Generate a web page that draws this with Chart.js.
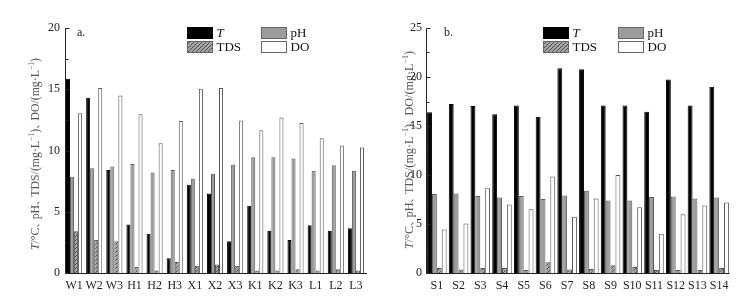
<!DOCTYPE html>
<html>
<head>
<meta charset="utf-8">
<script src="https://cdn.jsdelivr.net/npm/chart.js@4.4.1/dist/chart.umd.min.js"></script>
<style>
  html, body { margin: 0; padding: 0; background: #fff; }
  #wrap { position: relative; width: 756px; height: 299px; overflow: hidden; }
  .panel { position: absolute; top: 0; height: 299px; }
</style>
</head>
<body>
<div id="wrap">
  <div class="panel" style="left:0;width:376px"><canvas id="chartA" width="376" height="299"></canvas></div>
  <div class="panel" style="left:376px;width:380px"><canvas id="chartB" width="380" height="299"></canvas></div>
</div>
<script>
const SERIF = '"Liberation Serif", "Times New Roman", serif';
const CJK = '"Noto Sans CJK SC", sans-serif';

// panel a
const sitesA = ["W1", "W2", "W3", "H1", "H2", "H3", "X1", "X2", "X3", "K1", "K2", "K3", "L1", "L2", "L3"];
const tempA = [15.85, 14.3, 8.4, 3.95, 3.2, 1.2, 7.2, 6.5, 2.6, 5.5, 3.45, 2.7, 3.9, 3.45, 3.65];
const phA = [7.85, 8.55, 8.7, 8.9, 8.2, 8.4, 7.7, 8.1, 8.85, 9.45, 9.45, 9.35, 8.35, 8.8, 8.35];
const tdsA = [3.4, 2.7, 2.6, 0.5, 0.2, 0.9, 0.6, 0.7, 0.6, 0.2, 0.2, 0.3, 0.2, 0.3, 0.2];
const doA = [13.05, 15.1, 14.5, 12.95, 10.6, 12.4, 15.05, 15.1, 12.45, 11.65, 12.7, 12.25, 11.0, 10.4, 10.25];
const ticksA = [0, 5, 10, 15, 20];

// panel b
const sitesB = ["S1", "S2", "S3", "S4", "S5", "S6", "S7", "S8", "S9", "S10", "S11", "S12", "S13", "S14"];
const tempB = [16.4, 17.25, 17.05, 16.2, 17.1, 15.95, 20.9, 20.8, 17.1, 17.1, 16.45, 19.75, 17.1, 19.0];
const phB = [8.05, 8.1, 7.85, 7.7, 7.85, 7.55, 7.9, 8.4, 7.4, 7.4, 7.75, 7.8, 7.6, 7.7];
const tdsB = [0.5, 0.35, 0.5, 0.5, 0.3, 1.1, 0.35, 0.4, 0.8, 0.6, 0.3, 0.3, 0.3, 0.5];
const doB = [4.45, 5.05, 8.65, 7.0, 6.5, 9.85, 5.75, 7.6, 10.0, 6.7, 4.0, 6.0, 6.9, 7.2];
const ticksB = [0, 5, 10, 15, 20, 25];

const seriesNames = ["T", "pH", "TDS", "DO"];

// hatched fill for TDS
function makeHatch() {
  const c = document.createElement("canvas");
  c.width = 4;
  c.height = 4;
  const g = c.getContext("2d");
  g.fillStyle = "#a2a2a2";
  g.fillRect(0, 0, 4, 4);
  g.strokeStyle = "#555";
  g.lineWidth = 1;
  g.beginPath();
  g.moveTo(0, 4); g.lineTo(4, 0);
  g.moveTo(-1, 1); g.lineTo(1, -1);
  g.moveTo(3, 5); g.lineTo(5, 3);
  g.stroke();
  return g.createPattern(c, "repeat");
}
const hatch = makeHatch();

const styles = [
  { fill: "#000", border: "#000" },
  { fill: "#9c9c9c", border: "#5a5a5a" },
  { fill: hatch, border: "#555" },
  { fill: "#fff", border: "#555" },
];

// rotated y title, squeezed to the length it has in the paper figure
function drawYTitle(ctx, cx, cy, len) {
  const main = "11.5px " + SERIF;
  const comma = { t: "、", f: "9px " + CJK, adv: 8 };
  const parts = [
    { t: "T", f: "italic " + main },
    { t: "/°C", f: main },
    comma,
    { t: "pH", f: main },
    comma,
    { t: "TDS/(mg·L", f: main },
    { t: "−1", f: "7.5px " + SERIF, sup: true },
    { t: ")", f: main },
    comma,
    { t: "DO/(mg·L", f: main },
    { t: "−1", f: "7.5px " + SERIF, sup: true },
    { t: ")", f: main },
  ];
  ctx.save();
  let total = 0;
  const widths = parts.map((p) => {
    ctx.font = p.f;
    const w = p.adv || ctx.measureText(p.t).width;
    total += w;
    return w;
  });
  ctx.translate(cx, cy);
  ctx.rotate(-Math.PI / 2);
  ctx.scale(len / total, 1);
  ctx.fillStyle = "#555";
  ctx.textBaseline = "middle";
  let x = -total / 2;
  parts.forEach((p, i) => {
    ctx.font = p.f;
    ctx.fillText(p.t, x, p.sup ? -4 : 0);
    x += widths[i];
  });
  ctx.restore();
}

function axesPlugin(opts) {
  return {
    id: "paperAxes",
    afterDraw(chart) {
      const ctx = chart.ctx;
      const y = chart.scales.y;
      const ax = opts.axisX;
      const bottom = Math.round(y.getPixelForValue(0)) + 0.5;
      const top = Math.round(y.getPixelForValue(opts.max)) + 0.5;
      ctx.save();
      ctx.strokeStyle = "#222";
      ctx.lineWidth = 1;
      ctx.beginPath();
      ctx.moveTo(ax, top);
      ctx.lineTo(ax, bottom);
      ctx.lineTo(opts.axisEnd, bottom);
      // inward ticks, minor ones at half steps
      for (let v = 0; v <= opts.max; v += 2.5) {
        const py = Math.round(y.getPixelForValue(v)) + 0.5;
        const len = v % 5 === 0 ? 4 : 3;
        ctx.moveTo(ax, py);
        ctx.lineTo(ax + len, py);
      }
      ctx.stroke();

      drawYTitle(ctx, opts.titleX, opts.titleY, opts.titleLen);

      // panel letter
      ctx.fillStyle = "#222";
      ctx.font = "12px " + SERIF;
      ctx.textBaseline = "alphabetic";
      ctx.fillText(opts.letter, opts.letterX, 36);

      // legend
      const cols = [opts.legendX, opts.legendX2];
      const rows = [27.5, 41.5];
      const place = [[0, 0], [1, 0], [0, 1], [1, 1]];
      place.forEach(([c, r], i) => {
        const bx = cols[c] + 0.5;
        const by = rows[r];
        ctx.fillStyle = styles[i].fill;
        ctx.fillRect(bx, by, 25, 11);
        ctx.strokeStyle = i === 0 ? "#000" : "#666";
        ctx.strokeRect(bx, by, 25, 11);
        ctx.fillStyle = "#111";
        ctx.font = (i === 0 ? "italic " : "") + "13px " + SERIF;
        ctx.textBaseline = "middle";
        ctx.fillText(seriesNames[i], bx + 29, by + 6);
      });
      ctx.restore();
    },
  };
}

function makeChart(id, labels, series, opts) {
  const datasets = series.map((data, i) => ({
    label: seriesNames[i],
    data: data,
    backgroundColor: styles[i].fill,
    borderColor: styles[i].border,
    borderWidth: 1,
    barPercentage: 1,
    categoryPercentage: opts.catPct,
  }));
  return new Chart(document.getElementById(id), {
    type: "bar",
    data: { labels: labels, datasets: datasets },
    options: {
      responsive: false,
      animation: false,
      devicePixelRatio: 1,
      layout: { padding: { left: 0, right: opts.padRight, top: 28, bottom: 0 } },
      plugins: { legend: { display: false }, tooltip: { enabled: false } },
      scales: {
        x: {
          grid: { display: false, drawTicks: false },
          border: { display: false },
          ticks: { color: "#222", font: { family: SERIF, size: 12 }, padding: 6, maxRotation: 0, autoSkip: false },
          afterFit(scale) { scale.height = 26; },
        },
        y: {
          min: 0,
          max: opts.max,
          grid: { display: false, drawTicks: false },
          border: { display: false },
          afterBuildTicks(scale) { scale.ticks = opts.ticks.map((v) => ({ value: v })); },
          ticks: { color: "#222", font: { family: SERIF, size: 12 }, padding: 4 },
          afterFit(scale) { scale.width = opts.yWidth; },
        },
      },
    },
    plugins: [axesPlugin(opts)],
  });
}

makeChart("chartA", sitesA, [tempA, phA, tdsA, doA], {
  max: 20, ticks: ticksA, catPct: 0.8, padRight: 10, yWidth: 64,
  axisX: 65.5, axisEnd: 367, titleX: 36, titleY: 154, titleLen: 192,
  letter: "a.", letterX: 77, legendX: 187, legendX2: 261,
});
makeChart("chartB", sitesB, [tempB, phB, tdsB, doB], {
  max: 25, ticks: ticksB, catPct: 0.9, padRight: 26, yWidth: 50,
  axisX: 50.5, axisEnd: 353.5, titleX: 34, titleY: 150, titleLen: 198,
  letter: "b.", letterX: 68, legendX: 167, legendX2: 242,
});
</script>
</body>
</html>
